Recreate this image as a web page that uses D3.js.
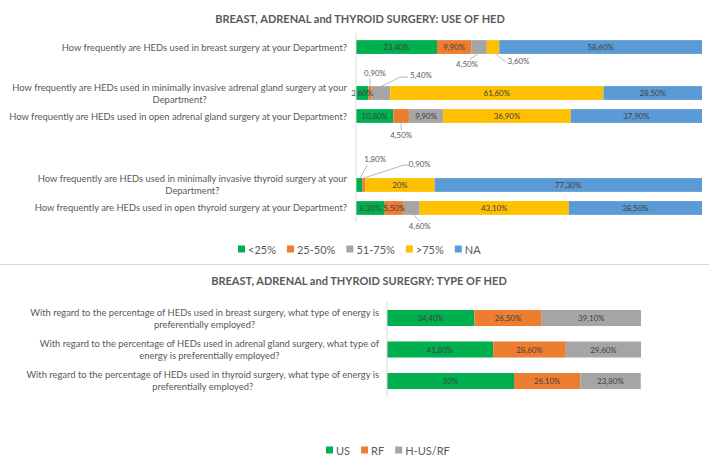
<!DOCTYPE html>
<html>
<head>
<meta charset="utf-8">
<script src="https://cdn.jsdelivr.net/npm/d3@7"></script>
<style>
  html, body { margin: 0; padding: 0; background: #fff; }
  svg { display: block; font-family: Lato, "Open Sans", sans-serif; }
</style>
</head>
<body>
<svg id="chart" width="709" height="458"></svg>
<script>
// ---------------- DATA ----------------
const topTitle = "BREAST, ADRENAL and THYROID SURGERY: USE OF HED";
const topCategories = [
  "How frequently are HEDs used in breast surgery at your Department?",
  "How frequently are HEDs used in minimally invasive adrenal gland surgery at your\nDepartment?",
  "How frequently are HEDs used in open adrenal gland surgery at your Department?",
  "How frequently are HEDs used in minimally invasive thyroid surgery at your\nDepartment?",
  "How frequently are HEDs used in open thyroid surgery at your Department?"
];
const topSeries = ["<25%", "25-50%", "51-75%", ">75%", "NA"];
const topLt25    = [23.4, 3.6, 10.8, 1.8, 8.3];
const top25to50  = [9.9, 0.9, 4.5, 0.9, 5.5];
const top51to75  = [4.5, 5.4, 9.9, 0, 4.6];
const topGt75    = [3.6, 61.6, 36.9, 20, 43.1];
const topNA      = [58.6, 28.5, 37.9, 77.3, 38.5];

const bottomTitle = "BREAST, ADRENAL and THYROID SUREGRY: TYPE OF HED";
const bottomCategories = [
  "With regard to the percentage of HEDs used in breast surgery, what type of energy is\npreferentially employed?",
  "With regard to the percentage of HEDs used in adrenal gland surgery, what type of\nenergy is preferentially employed?",
  "With regard to the percentage of HEDs used in thyroid surgery, what type of energy is\npreferentially employed?"
];
const bottomSeries = ["US", "RF", "H-US/RF"];
const bottomUS     = [34.4, 41.8, 50];
const bottomRF     = [26.5, 28.6, 26.1];
const bottomHybrid = [39.1, 29.6, 23.8];

// ---------------- LAYOUT / STYLE ----------------
const topColors = ["#00B050", "#ED7D31", "#A5A5A5", "#FFC000", "#5B9BD5"];
const bottomColors = ["#00B050", "#ED7D31", "#A5A5A5"];
const topSlots = [0, 2, 3, 6, 7];       // category positions among 8 slots (Excel blank rows)
const textColor = "#595959";
const valueColor = "#404040";
const catFont = 9.4;
const valFont = 7.9;
const legFont = 11;

// callouts for small segments: anchor side, label offset, leader points (relative to segment anchor)
const topCallouts = [
  {row: 0, s: 2, side: "bottom", label: [-12, 10.5], leader: [[-1, 0], [-9.5, 5.5]]},
  {row: 0, s: 3, side: "bottom", label: [25.5, 7],   leader: [[3, 0], [11, 7], [13, 7]]},
  {row: 1, s: 1, side: "top",    label: [5, -13],    leader: [[0, 0], [0, -8]]},
  {row: 1, s: 2, side: "top",    label: [40, -11],   leader: [[0.5, 0], [19, -9], [27, -9]]},
  {row: 2, s: 1, side: "bottom", label: [0, 12],     leader: [[0, 0], [0, 7]]},
  {row: 3, s: 0, side: "top",    label: [16, -19],   leader: [[1, 0], [8, -13]]},
  {row: 3, s: 1, side: "top",    label: [56, -14],   leader: [[0, 0], [40, -13], [45, -13]]},
  {row: 4, s: 2, side: "bottom", label: [8, 11],     leader: [[1.5, 0], [8, 6]]}
];

const fmt = v => Number.isInteger(v) ? v + "%" : v.toFixed(2).replace(".", ",") + "%";

const svg = d3.select("#chart");

// ---------------- helpers ----------------
function wrapLabel(g, text, xRight, yCenter, lineH, size) {
  const lines = text.split("\n");
  const t = g.append("g");
  const nodes = lines.map((ln, i) => t.append("text")
    .attr("font-size", size)
    .attr("fill", textColor)
    .attr("dominant-baseline", "central")
    .attr("y", yCenter + (i - (lines.length - 1) / 2) * lineH)
    .text(ln));
  const maxW = d3.max(nodes, n => n.node().getComputedTextLength());
  nodes.forEach(n => n.attr("text-anchor", "middle").attr("x", xRight - maxW / 2));
}

function legend(g, items, colors, x0, y, size, gapAfter) {
  let x = x0;
  items.forEach((name, i) => {
    g.append("rect").attr("x", x).attr("y", y - 3.5).attr("width", 7).attr("height", 7).attr("fill", colors[i]);
    const t = g.append("text").attr("x", x + 10).attr("y", y)
      .attr("dominant-baseline", "central").attr("font-size", size).attr("fill", textColor).text(name);
    x += 10 + t.node().getComputedTextLength() + gapAfter;
  });
}

// ---------------- TOP CHART ----------------
const topRows = topCategories.map((c, i) => ({
  cat: c, slot: topSlots[i],
  "<25%": topLt25[i], "25-50%": top25to50[i], "51-75%": top51to75[i], ">75%": topGt75[i], "NA": topNA[i]
}));
const xTop = d3.scaleLinear().domain([0, 100]).range([356, 702]);
const yTop = d3.scaleBand().domain(d3.range(8)).range([33, 222]).paddingInner(0.4).paddingOuter(0.31);
const stackTop = d3.stack().keys(topSeries)(topRows);

svg.append("text").attr("x", 360).attr("y", 18).attr("text-anchor", "middle")
  .attr("dominant-baseline", "central").attr("font-size", 11).attr("font-weight", "bold")
  .attr("fill", textColor).text(topTitle);

const gTop = svg.append("g");
stackTop.forEach((layer, si) => {
  gTop.selectAll(null).data(layer).enter().append("rect")
    .attr("x", d => xTop(d[0]))
    .attr("y", d => yTop(d.data.slot))
    .attr("width", d => xTop(d[1]) - xTop(d[0]))
    .attr("height", yTop.bandwidth())
    .attr("fill", topColors[si]);
});

// axis line
svg.append("line").attr("x1", xTop(0)).attr("x2", xTop(0))
  .attr("y1", yTop.range()[0]).attr("y2", yTop.range()[1])
  .attr("stroke", "#D9D9D9").attr("stroke-width", 1);

// inside labels
const isCallout = (r, s) => topCallouts.some(c => c.row === r && c.s === s);
stackTop.forEach((layer, si) => {
  layer.forEach((d, ri) => {
    const v = d[1] - d[0];
    if (v <= 0 || isCallout(ri, si)) return;
    gTop.append("text")
      .attr("x", (xTop(d[0]) + xTop(d[1])) / 2)
      .attr("y", yTop(d.data.slot) + yTop.bandwidth() / 2)
      .attr("text-anchor", "middle").attr("dominant-baseline", "central")
      .attr("font-size", valFont).attr("fill", valueColor)
      .text(fmt(topRows[ri][topSeries[si]]));
  });
});

// callouts
topCallouts.forEach(c => {
  const d = stackTop[c.s][c.row];
  const ax = (xTop(d[0]) + xTop(d[1])) / 2;
  const ay = c.side === "top" ? yTop(d.data.slot) : yTop(d.data.slot) + yTop.bandwidth();
  gTop.append("path")
    .attr("d", d3.line()(c.leader.map(p => [ax + p[0], ay + p[1]])))
    .attr("fill", "none").attr("stroke", "#A6A6A6").attr("stroke-width", 0.8);
  gTop.append("text")
    .attr("x", ax + c.label[0]).attr("y", ay + c.label[1])
    .attr("text-anchor", "middle").attr("dominant-baseline", "central")
    .attr("font-size", valFont).attr("fill", textColor)
    .text(fmt(topRows[c.row][topSeries[c.s]]));
});

// category labels
topRows.forEach(r => wrapLabel(svg, r.cat, 347, yTop(r.slot) + yTop.bandwidth() / 2, 12, catFont));

legend(svg, topSeries, topColors, 238, 249, legFont, 11);

// separator
svg.append("line").attr("x1", 0).attr("x2", 709).attr("y1", 264.5).attr("y2", 264.5)
  .attr("stroke", "#D9D9D9").attr("stroke-width", 1);

// ---------------- BOTTOM CHART ----------------
svg.append("text").attr("x", 359).attr("y", 280).attr("text-anchor", "middle")
  .attr("dominant-baseline", "central").attr("font-size", 11).attr("font-weight", "bold")
  .attr("fill", textColor).text(bottomTitle);

const bottomRows = bottomCategories.map((c, i) => ({
  cat: c, "US": bottomUS[i], "RF": bottomRF[i], "H-US/RF": bottomHybrid[i]
}));
const xBot = d3.scaleLinear().domain([0, 100]).range([387, 641]);
const yBot = d3.scaleBand().domain(d3.range(bottomRows.length)).range([302, 397]).paddingInner(0.49).paddingOuter(0.253);
const stackBot = d3.stack().keys(bottomSeries)(bottomRows);

const gBot = svg.append("g");
stackBot.forEach((layer, si) => {
  layer.forEach((d, ri) => {
    gBot.append("rect")
      .attr("x", xBot(d[0])).attr("y", yBot(ri))
      .attr("width", xBot(d[1]) - xBot(d[0])).attr("height", yBot.bandwidth())
      .attr("fill", bottomColors[si]);
    gBot.append("text")
      .attr("x", (xBot(d[0]) + xBot(d[1])) / 2).attr("y", yBot(ri) + yBot.bandwidth() / 2)
      .attr("text-anchor", "middle").attr("dominant-baseline", "central")
      .attr("font-size", valFont).attr("fill", valueColor)
      .text(fmt(bottomRows[ri][bottomSeries[si]]));
  });
});
svg.append("line").attr("x1", xBot(0)).attr("x2", xBot(0))
  .attr("y1", yBot.range()[0]).attr("y2", yBot.range()[1])
  .attr("stroke", "#D9D9D9").attr("stroke-width", 1);

bottomRows.forEach((r, i) => wrapLabel(svg, r.cat, 379, yBot(i) + yBot.bandwidth() / 2, 12, catFont));

legend(svg, bottomSeries, bottomColors, 326, 450, legFont, 11);
</script>
</body>
</html>
